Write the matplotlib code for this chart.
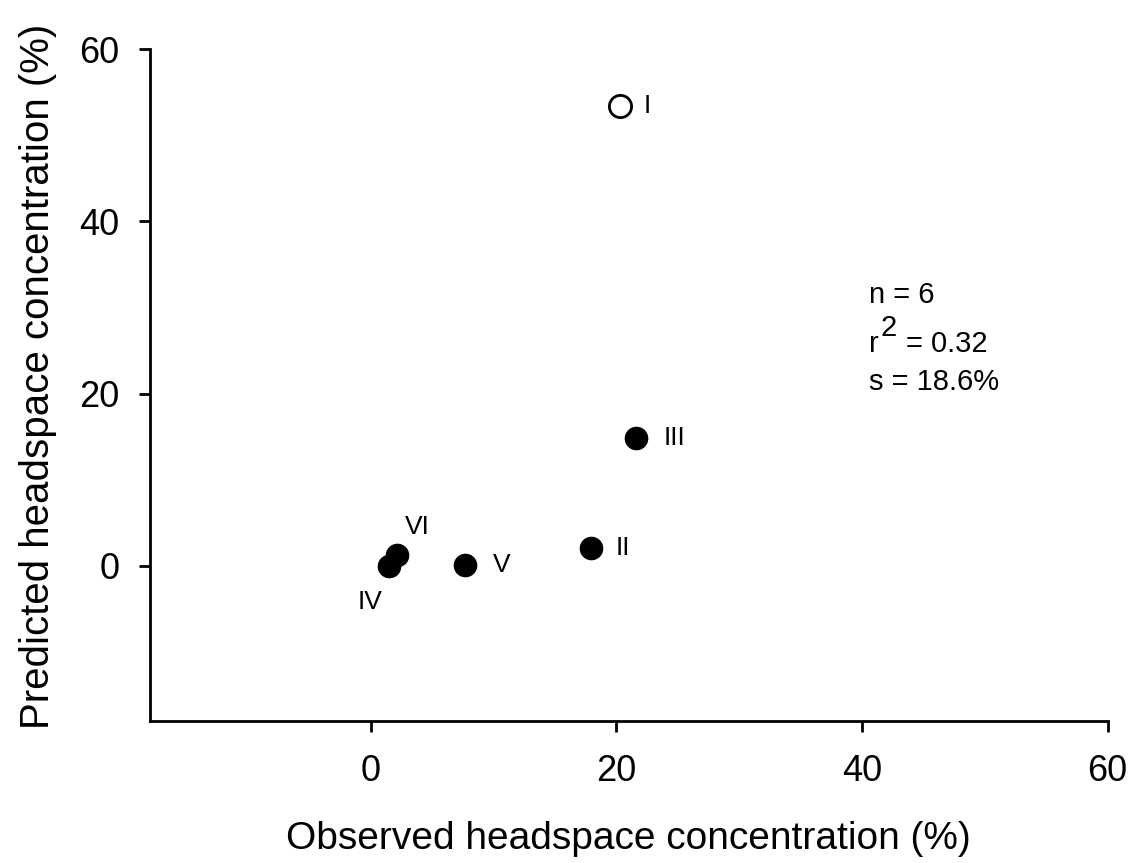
import matplotlib
matplotlib.use("Agg")
import matplotlib.pyplot as plt

plt.rcParams['font.family'] = ['Liberation Sans', 'DejaVu Sans']

# headspace concentrations (%), observed vs predicted
labels = ['I', 'II', 'III', 'IV', 'V', 'VI']
observed = [20.3, 17.9, 21.6, 1.5, 7.7, 2.1]
predicted = [53.4, 2.1, 14.9, 0.0, 0.1, 1.3]
outlier = [True, False, False, False, False, False]

# label offsets in points from each point
offsets = {'I': (17, 0), 'II': (18, 0), 'III': (20, 0), 'IV': (-14, -26),
           'V': (20, 0), 'VI': (6, 20)}

fig = plt.figure(figsize=(11.36, 8.63), dpi=100)
ax = fig.add_axes([0.132, 0.1645, 0.843, 0.7785])

for x, y, lab, op in zip(observed, predicted, labels, outlier):
    if op:
        ax.plot(x, y, 'o', ms=16, mfc='white', mec='black', mew=2)
    else:
        ax.plot(x, y, 'o', ms=16, mfc='black', mec='black')
    ax.annotate(lab, (x, y), xytext=offsets[lab], textcoords='offset points',
                ha='left' if lab != 'IV' else 'center', va='center', fontsize=19)

ax.set_xlim(-18, 60)
ax.set_ylim(-18, 60)
ax.set_xticks([0, 20, 40, 60])
ax.set_yticks([0, 20, 40, 60])
ax.tick_params(direction='out', length=8, width=2, labelsize=26, pad=14)
ax.tick_params(axis='x', pad=16)
for side in ['top', 'right']:
    ax.spines[side].set_visible(False)
for side in ['left', 'bottom']:
    ax.spines[side].set_linewidth(2)

ax.set_xlabel('Observed headspace concentration (%)', fontsize=28, labelpad=23)
ax.set_ylabel('Predicted headspace concentration (%)', fontsize=29, labelpad=16)
ax.yaxis.label.set_y(0.513)

# fit statistics
ax.text(40.55, 31.45, 'n = 6', fontsize=21, va='center')
ax.text(40.55, 25.8, 'r', fontsize=21, va='center')
ax.text(41.5, 27.6, '2', fontsize=21, va='center')
ax.text(43.6, 25.8, '= 0.32', fontsize=21, va='center')
ax.text(40.55, 21.35, 's = 18.6%', fontsize=21, va='center')

fig.savefig('out.png', dpi=100)
